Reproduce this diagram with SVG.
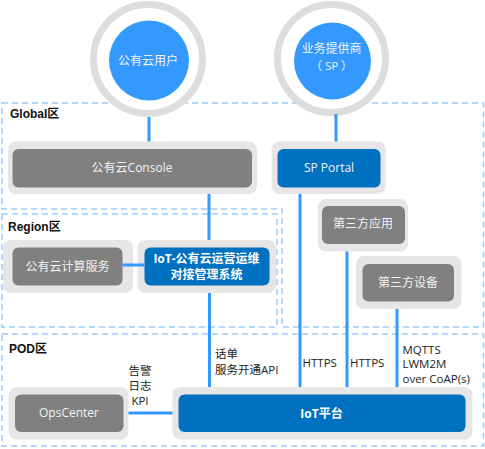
<svg xmlns="http://www.w3.org/2000/svg" width="485" height="449" viewBox="0 0 485 449">
<style>
.zone{fill:none;stroke:#99ccff;stroke-width:1.5;stroke-dasharray:6 4}
.zl{font-family:"Liberation Sans","Noto Sans CJK SC",sans-serif;font-weight:bold;font-size:12px;fill:#111}
.ring{fill:#fff;stroke:#dcdddd;stroke-width:7}
.bc{fill:#3399ff}
.outer{fill:#e6e6e6}
.gray{fill:#808080}
.blue{fill:#0070c0}
.t{font-family:"Open Sans","Noto Sans CJK SC",sans-serif;font-size:12px;fill:#f2f2f2;text-anchor:middle}
.tb{font-family:"Open Sans","Noto Sans CJK SC",sans-serif;font-size:12px;font-weight:bold;fill:#fff;text-anchor:middle}
.lbl{font-family:"Open Sans","Noto Sans CJK SC",sans-serif;font-size:11.5px;fill:#222}
.c{stroke:#3399ff;stroke-width:3;fill:none}
</style>
<g id="zones">
<path class="zone" d="M2,103 H483.5 V327 H282 V209 H2 Z"/>
<rect class="zone" x="2" y="214" width="275" height="113"/>
<rect class="zone" x="2" y="334" width="481.5" height="112"/>
<text class="zl" x="10" y="118">Global区</text>
<text class="zl" x="8" y="231">Region区</text>
<text class="zl" x="9" y="353">POD区</text>
</g>
<g id="user">
<circle class="ring" cx="148" cy="59" r="54.5"/>
<circle class="bc" cx="149" cy="60.5" r="40"/>
<text class="t" x="148" y="64.5">公有云用户</text>
</g>
<g id="sp">
<circle class="ring" cx="331.5" cy="58.5" r="54"/>
<circle class="bc" cx="332.5" cy="61" r="38.5"/>
<text class="t" x="331.5" y="52.5">业务提供商</text>
<text class="t" x="331.5" y="70" style="font-size:11.5px">（ SP ）</text>
</g>
<g id="console">
<rect class="outer" x="8" y="141.5" width="249" height="52.5" rx="8"/>
<rect class="gray" x="12.5" y="149" width="239.5" height="38.5" rx="6"/>
<text class="t" x="132" y="172">公有云Console</text>
</g>
<g id="portal">
<rect class="outer" x="271.5" y="141.5" width="114" height="52.5" rx="8"/>
<rect class="blue" x="277.5" y="149" width="103" height="38.5" rx="6"/>
<text class="t" x="329" y="172">SP Portal</text>
</g>
<g id="app">
<rect class="outer" x="318" y="199" width="90" height="52.5" rx="8"/>
<rect class="gray" x="322" y="206" width="83" height="38" rx="6"/>
<text class="t" x="363" y="228">第三方应用</text>
</g>
<g id="device">
<rect class="outer" x="356" y="256" width="105.5" height="53" rx="8"/>
<rect class="gray" x="362.5" y="264" width="91.5" height="37.5" rx="6"/>
<text class="t" x="408" y="287">第三方设备</text>
</g>
<g id="compute">
<rect class="outer" x="3" y="240" width="130" height="53" rx="8"/>
<rect class="gray" x="12.5" y="247.5" width="110" height="38" rx="6"/>
<text class="t" x="67.5" y="271">公有云计算服务</text>
</g>
<g id="oms">
<rect class="outer" x="137.5" y="240" width="138.5" height="53" rx="8"/>
<rect class="blue" x="144.5" y="247.5" width="125" height="38" rx="6"/>
<text class="tb" x="206.5" y="262.5">IoT-公有云运营运维</text>
<text class="tb" x="206.5" y="278.5">对接管理系统</text>
</g>
<g id="opscenter">
<rect class="outer" x="8.5" y="387" width="120" height="52.5" rx="8"/>
<rect class="gray" x="15" y="394.5" width="108.5" height="37.5" rx="6"/>
<text class="t" x="69" y="416.5">OpsCenter</text>
</g>
<g id="iot">
<rect class="outer" x="172.5" y="387" width="300" height="52.5" rx="8"/>
<rect class="blue" x="178.5" y="394.5" width="287" height="37.5" rx="6"/>
<text class="tb" x="321.5" y="417.5">IoT平台</text>
</g>
<g id="connectors">
<line class="c" x1="149" y1="117" x2="149" y2="141.5"/>
<line class="c" x1="336" y1="114" x2="336" y2="141.5"/>
<line class="c" x1="209" y1="194" x2="209" y2="240"/>
<line class="c" x1="122.5" y1="265" x2="144.5" y2="265"/>
<line class="c" x1="209.5" y1="293" x2="209.5" y2="387"/>
<line class="c" x1="300" y1="194" x2="300" y2="387"/>
<line class="c" x1="347" y1="251.5" x2="347" y2="387"/>
<line class="c" x1="397" y1="309" x2="397" y2="387"/>
<line class="c" x1="128.5" y1="413" x2="172.5" y2="413"/>
</g>
<g id="labels">
<text class="lbl" x="140" y="375" text-anchor="middle">告警</text>
<text class="lbl" x="140" y="390" text-anchor="middle">日志</text>
<text class="lbl" x="140" y="405" text-anchor="middle">KPI</text>
<text class="lbl" x="215" y="358">话单</text>
<text class="lbl" x="215" y="374">服务开通API</text>
<text class="lbl" x="302.5" y="366.5">HTTPS</text>
<text class="lbl" x="350" y="366.5">HTTPS</text>
<text class="lbl" x="402.5" y="353.5">MQTTS</text>
<text class="lbl" x="402.5" y="368">LWM2M</text>
<text class="lbl" x="402.5" y="383">over CoAP(s)</text>
</g>
</svg>
